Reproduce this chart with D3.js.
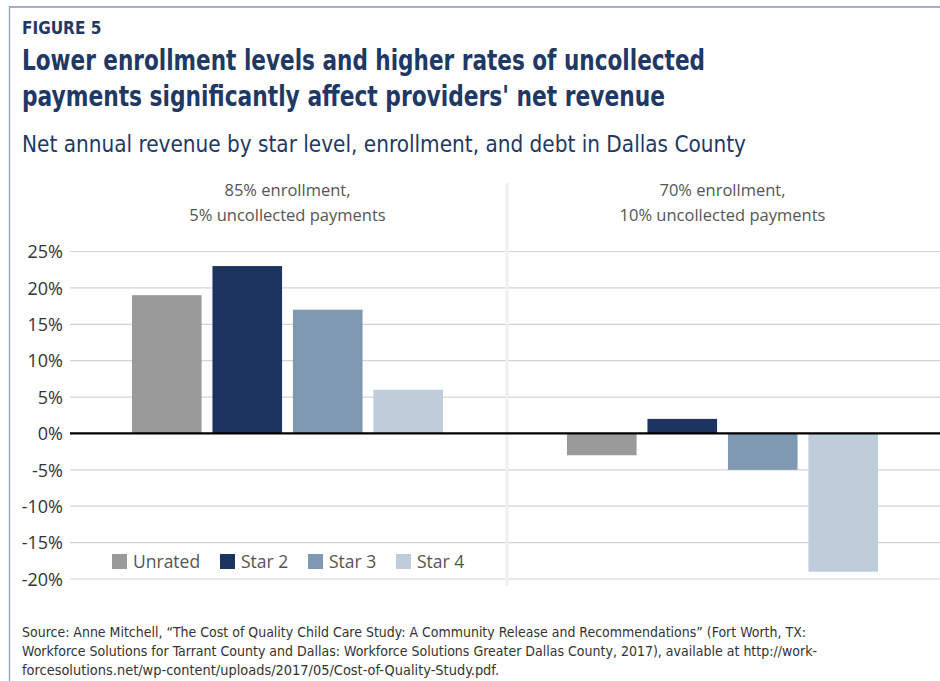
<!DOCTYPE html>
<html>
<head>
<meta charset="utf-8">
<script src="https://cdn.jsdelivr.net/npm/d3@7"></script>
<style>
  html, body { margin: 0; padding: 0; background: #fff; }
  svg { display: block; }
</style>
</head>
<body>
<svg id="chart" width="940" height="681"></svg>
<script>
// Star levels (series) and the two enrollment / debt scenarios (panels)
const series = ["Unrated", "Star 2", "Star 3", "Star 4"];
const colors = ["#9a9a9a", "#1d3461", "#7f99b2", "#bfcddb"];
const scenarios = [
  ["85% enrollment,", "5% uncollected payments"],
  ["70% enrollment,", "10% uncollected payments"]
];
// Net annual revenue, percent, one array per scenario (ordered as series)
const scenarioA = [19, 23, 17, 6];
const scenarioB = [-3, 2, -5, -19];
const yTicks = [25, 20, 15, 10, 5, 0, -5, -10, -15, -20];

const sourceLines = [
  "Source: Anne Mitchell, \u201cThe Cost of Quality Child Care Study: A Community Release and Recommendations\u201d (Fort Worth, TX:",
  "Workforce Solutions for Tarrant County and Dallas: Workforce Solutions Greater Dallas County, 2017), available at http://work-",
  "forcesolutions.net/wp-content/uploads/2017/05/Cost-of-Quality-Study.pdf."
];

const svg = d3.select("#chart");
const navy = "#1f3864";
const condensed = "'Liberation Sans Narrow', 'DejaVu Sans Condensed', 'Open Sans', sans-serif";
const body = "'Open Sans', 'Noto Sans', sans-serif";

// frame
svg.append("line").attr("x1", 9).attr("x2", 940).attr("y1", 7).attr("y2", 7)
  .attr("stroke", "#a3b3c4").attr("stroke-width", 2);
svg.append("line").attr("x1", 9.5).attr("x2", 9.5).attr("y1", 6).attr("y2", 681)
  .attr("stroke", "#8ea2b8").attr("stroke-width", 1.3);

// headings
svg.append("text").attr("x", 22).attr("y", 34).text("FIGURE 5")
  .attr("font-family", condensed).attr("font-weight", "bold").attr("font-size", 17).attr("fill", navy);
const titleLines = ["Lower enrollment levels and higher rates of uncollected",
                    "payments significantly affect providers' net revenue"];
const titleWidths = [683, 643];
titleLines.forEach((t, i) => {
  svg.append("text").attr("x", 22).attr("y", 70 + i * 36).text(t)
    .attr("font-family", condensed).attr("font-weight", "bold").attr("font-size", 28)
    .attr("fill", navy).attr("textLength", titleWidths[i]).attr("lengthAdjust", "spacingAndGlyphs");
});
svg.append("text").attr("x", 22).attr("y", 152)
  .text("Net annual revenue by star level, enrollment, and debt in Dallas County")
  .attr("font-family", condensed).attr("font-size", 23).attr("fill", navy)
  .attr("textLength", 724).attr("lengthAdjust", "spacingAndGlyphs");

// scales
const plotLeft = 70, plotRight = 940, panelSplit = 507;
const y = d3.scaleLinear().domain([-20, 25]).range([579, 251.5]);
const panelX = d3.scaleBand().domain([0, 1]).range([plotLeft, plotRight]).padding(0);
const barX = d3.scaleBand().domain(series).range([0, panelX.bandwidth()])
  .paddingInner(0.135).paddingOuter(0.77);

// gridlines
svg.append("g").selectAll("line").data(yTicks.filter(d => d !== 0)).join("line")
  .attr("x1", plotLeft).attr("x2", plotRight)
  .attr("y1", d => y(d)).attr("y2", d => y(d))
  .attr("stroke", "#d4d4d4").attr("stroke-width", 1.2);

// panel separator
svg.append("line").attr("x1", panelSplit).attr("x2", panelSplit).attr("y1", 183).attr("y2", 586)
  .attr("stroke", "#f0f0f0").attr("stroke-width", 3);

// y axis labels
const yAxis = d3.axisLeft(y).tickValues(yTicks).tickSize(0).tickPadding(0)
  .tickFormat(d => d + "%");
const ya = svg.append("g").attr("transform", `translate(63,0)`).call(yAxis);
ya.select(".domain").remove();
ya.selectAll("text").attr("font-family", body).attr("font-size", 18).attr("fill", "#333")
  .attr("dy", "0.35em");

// bars
const panels = [scenarioA, scenarioB];
panels.forEach((vals, p) => {
  const g = svg.append("g").attr("transform", `translate(${panelX(p)},0)`);
  g.selectAll("rect").data(vals).join("rect")
    .attr("x", (d, i) => barX(series[i]))
    .attr("width", barX.bandwidth())
    .attr("y", d => y(Math.max(0, d)))
    .attr("height", d => Math.abs(y(d) - y(0)))
    .attr("fill", (d, i) => colors[i]);
  // panel heading
  const cx = panelX(p) + panelX.bandwidth() / 2;
  scenarios[p].forEach((t, k) => {
    svg.append("text").attr("x", cx).attr("y", 196 + k * 25).text(t)
      .attr("text-anchor", "middle").attr("font-family", body).attr("font-size", 16.5)
      .attr("fill", "#555");
  });
});

// zero line
svg.append("line").attr("x1", plotLeft).attr("x2", plotRight).attr("y1", y(0)).attr("y2", y(0))
  .attr("stroke", "#000").attr("stroke-width", 2.2);

// legend
const legendX = [112, 220, 308, 396];
const lg = svg.append("g");
series.forEach((s, i) => {
  lg.append("rect").attr("x", legendX[i]).attr("y", 554).attr("width", 15).attr("height", 15)
    .attr("fill", colors[i]);
  lg.append("text").attr("x", legendX[i] + 21).attr("y", 561.5).attr("dy", "0.35em").text(s)
    .attr("font-family", body).attr("font-size", 17.5).attr("fill", "#555");
});

// source note
const sourceWidths = [784, 795, 477];
sourceLines.forEach((t, i) => {
  svg.append("text").attr("x", 22).attr("y", 637 + i * 19).text(t)
    .attr("font-family", condensed).attr("font-size", 13.5).attr("fill", "#333")
    .attr("textLength", sourceWidths[i]).attr("lengthAdjust", "spacingAndGlyphs");
});
</script>
</body>
</html>
